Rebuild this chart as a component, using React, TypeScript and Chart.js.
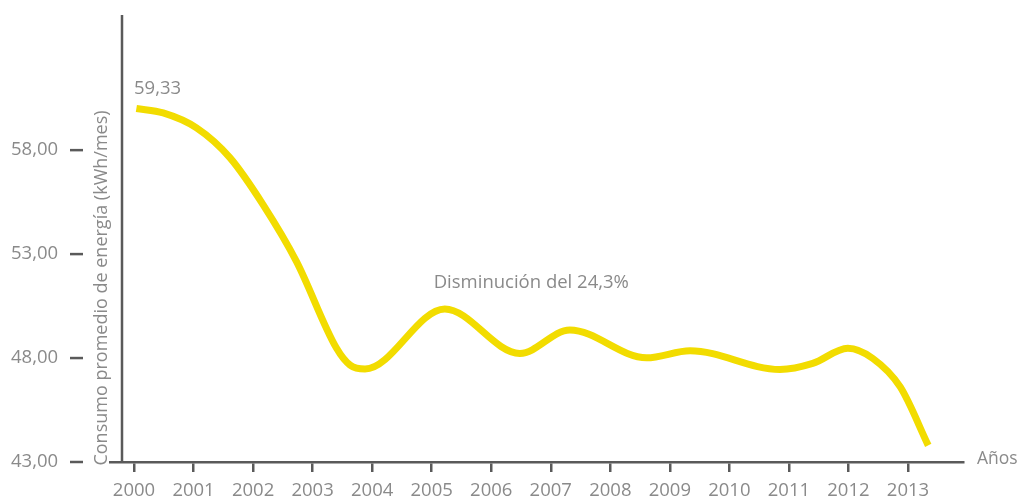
import React, { useEffect, useRef } from "react";
import { Chart, registerables } from "chart.js";

Chart.register(...registerables);

// ---- data ----
const years = [2000, 2001, 2002, 2003, 2004, 2005, 2006, 2007, 2008, 2009, 2010, 2011, 2012, 2013];
const yTickValues = [43, 48, 53, 58];
// curve (fractional year, kWh/mes): turning points and a few shape points
const curveX = [
  2000.04, 2000.49, 2001.05, 2001.61, 2002.17, 2002.73, 2003.4, 2003.63, 2003.88, 2005.22, 2006.48,
  2007.32, 2008.61, 2009.34, 2010.85, 2011.4, 2011.99, 2012.41, 2012.87, 2013.34,
];
const curveY = [
  60.0, 59.79, 59.07, 57.64, 55.37, 52.64, 48.48, 47.66, 47.47, 50.36, 48.22,
  49.35, 48.01, 48.35, 47.45, 47.74, 48.47, 47.98, 46.61, 43.8,
];
const startLabel = "59,33";
const noteLabel = "Disminución del 24,3%";
const xTitle = "Años";
const yTitle = "Consumo promedio de energía (kWh/mes)";

const FONT = "'Open Sans', 'Noto Sans', sans-serif";
const TEXT = "#8a8a8a";
const AXIS = "#5a5a5a";
const YELLOW = "#f2dc00";

const decor = {
  id: "decor",
  afterDraw(chart: any) {
    const { ctx, scales } = chart;
    const x = scales.x;
    const y = scales.y;
    ctx.save();
    // y axis line
    ctx.strokeStyle = AXIS;
    ctx.lineWidth = 2.5;
    ctx.beginPath();
    ctx.moveTo(122, chart.chartArea.top);
    ctx.lineTo(122, chart.chartArea.bottom + 1);
    ctx.stroke();
    // y tick dashes
    for (const v of yTickValues) {
      const py = y.getPixelForValue(v);
      ctx.beginPath();
      ctx.moveTo(70, py);
      ctx.lineTo(83, py);
      ctx.stroke();
    }
    ctx.fillStyle = TEXT;
    // y title
    ctx.save();
    ctx.font = `18px ${FONT}`;
    ctx.translate(102, 288);
    ctx.rotate(-Math.PI / 2);
    ctx.textAlign = "center";
    ctx.textBaseline = "middle";
    ctx.fillText(yTitle, 0, 0);
    ctx.restore();
    // start label
    ctx.font = `18.5px ${FONT}`;
    ctx.textAlign = "left";
    ctx.textBaseline = "alphabetic";
    const p0x = x.getPixelForValue(2000);
    const p0y = y.getPixelForValue(curveY[0]);
    ctx.fillText(startLabel, p0x, p0y - 15);
    // note
    ctx.fillText(noteLabel, x.getPixelForValue(2005) + 2, y.getPixelForValue(51.37));
    // x title
    ctx.font = `17.5px ${FONT}`;
    ctx.fillText(xTitle, x.right + 14, chart.chartArea.bottom + 2);
    ctx.restore();
  },
};

export default function App() {
  const ref = useRef<HTMLCanvasElement | null>(null);
  useEffect(() => {
    document.body.style.margin = "0";
    const canvas = ref.current!;
    const chart = new Chart(canvas, {
      type: "line",
      data: {
        datasets: [
          {
            data: curveX.map((v, i) => ({ x: v, y: curveY[i] })),
            borderColor: YELLOW,
            borderWidth: 7,
            pointRadius: 0,
            fill: false,
            cubicInterpolationMode: "monotone",
            borderCapStyle: "butt",
            borderJoinStyle: "round",
          },
        ],
      },
      options: {
        animation: false,
        responsive: false,
        devicePixelRatio: 1,
        layout: { padding: { top: 15, right: 56, left: 11, bottom: 0 } },
        plugins: { legend: { display: false }, tooltip: { enabled: false } },
        scales: {
          x: {
            type: "linear",
            min: 1999.597,
            max: 2013.924,
            afterBuildTicks: (s: any) => {
              s.ticks = years.map((v) => ({ value: v }));
            },
            afterFit: (s: any) => {
              s.height = 40;
            },
            ticks: {
              autoSkip: false,
              maxRotation: 0,
              callback: (v: any) => String(v),
              color: TEXT,
              font: { family: FONT, size: 18.5 },
              padding: 8,
            },
            grid: {
              display: true,
              drawOnChartArea: false,
              drawTicks: true,
              tickLength: 10,
              color: AXIS,
              lineWidth: 2.5,
            },
            border: { display: true, color: AXIS, width: 2.5 },
          },
          y: {
            type: "linear",
            min: 43,
            max: 64.5,
            afterBuildTicks: (s: any) => {
              s.ticks = yTickValues.map((v) => ({ value: v }));
            },
            afterFit: (s: any) => {
              s.width = 99;
            },
            ticks: {
              callback: (v: any) => Number(v).toFixed(2).replace(".", ","),
              color: TEXT,
              font: { family: FONT, size: 18.5 },
              padding: 0,
              crossAlign: "far",
            },
            grid: { display: false },
            border: { display: false },
          },
        },
      },
      plugins: [decor],
    });
    return () => chart.destroy();
  }, []);
  return (
    <div style={{ width: 1019, height: 502 }}>
      <canvas ref={ref} width={1019} height={502} />
    </div>
  );
}
